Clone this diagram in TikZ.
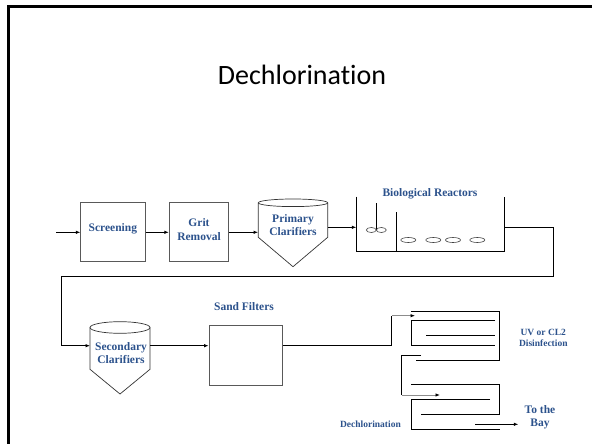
\documentclass[tikz,border=0pt]{standalone}
\usepackage{fontspec}
\setmainfont{Liberation Serif}
\newfontfamily\titlefont[Ligatures=NoCommon]{Carlito}
\usetikzlibrary{arrows.meta}
\definecolor{labelblue}{RGB}{44,82,140}
\begin{document}
\begin{tikzpicture}[x=1pt,y=-1pt,
  pipe/.style={line width=0.8pt, black},
  flow/.style={pipe, -{Latex[length=4.5pt,width=3.5pt]}},
  grayflow/.style={line width=0.8pt, black!45, -{Latex[length=4.5pt,width=3.5pt,color=black]}},
  unitbox/.style={draw=black!65, line width=0.9pt, inner sep=0pt},
  vessel/.style={draw=black!80, line width=0.7pt},
  bubble/.style={draw=black!75, line width=0.6pt},
  lbl/.style={text=labelblue, font=\bfseries\fontsize{11.5}{13.3}\selectfont, align=center, inner sep=0pt},
  smalllbl/.style={text=labelblue, font=\bfseries\fontsize{9.5}{11}\selectfont, align=center, inner sep=0pt}]
\useasboundingbox (0,0) rectangle (592,444);

% slide frame
\draw[line width=3pt] (8,444) -- (8,6.5) -- (592,6.5);

% title
\node[font=\titlefont\fontsize{28}{30}\selectfont, inner sep=0pt] (title) at (302,75) {Dechlorination};

% ---- first row ----
\coordinate (feed) at (56,232.3);
\node[unitbox, minimum width=64.3pt, minimum height=58.7pt] (screen) at (112.9,231.7) {};
\node[lbl] (screenlbl) at (112.9,228.3) {Screening};
\node[unitbox, minimum width=59.4pt, minimum height=58.7pt] (grit) at (199,231.7) {};
\node[lbl] (gritlbl) at (199,229.7) {Grit\\Removal};

% primary clarifier
\draw[vessel] (258.3,202.8) -- (258.3,237.3) -- (293,266.7) -- (327.7,237.3) -- (327.7,202.8);
\draw[vessel] (293,202.8) ellipse [x radius=34.7, y radius=3.8];
\node[lbl, minimum width=69.4pt] (pc) at (293,225) {Primary\\Clarifiers};

\draw[flow] (feed) -- (screen.west |- feed);
\draw[flow] (screen.east |- feed) -- (grit.west |- feed);
\draw[flow] (grit.east |- feed) -- (pc.west |- feed);

% biological reactors
\coordinate (brin) at (356.3,227.3);
\coordinate (brout) at (504.3,227.3);
\draw[pipe] (356.3,196.7) -- (356.3,251) -- (504.3,251) -- (504.3,196.7);
\draw[pipe] (396.3,212.3) -- (396.3,251);
\draw[pipe, line width=0.6pt] (376.3,203.3) -- (376.3,229.5);
\draw[bubble] (371.3,230) ellipse [x radius=5, y radius=2.5];
\draw[bubble] (381.3,230) ellipse [x radius=5, y radius=2.5];
\foreach \bx in {408.3,433.3,453,477.3}
  \draw[bubble] (\bx,240) ellipse [x radius=7.5, y radius=2.5];
\node[lbl] (brlbl) at (430,193.3) {Biological Reactors};

\draw[flow] (pc.east |- brin) -- (brin);

% ---- second row ----
\coordinate (scin) at (90,345.7);
\coordinate (scout) at (150,345.7);
\draw[flow] (brout) -- (553.3,227.3) -- (553.3,276.3) -- (61.3,276.3) |- (scin);

% secondary clarifier
\draw[vessel] (90,327.5) -- (90,369.3) -- (120,394) -- (150,369.3) -- (150,327.5);
\draw[vessel] (120,327.5) ellipse [x radius=30, y radius=5.8];
\node[lbl] (sc) at (121,353.3) {Secondary\\Clarifiers};

% sand filters
\node[unitbox, minimum width=73.7pt, minimum height=59.3pt] (sand) at (245.9,355.4) {};
\node[lbl] (sandlbl) at (244,306.7) {Sand Filters};
\draw[flow] (scout) -- (sand.west |- scout);

% UV / CL2 disinfection basin
\coordinate (uvturn) at (391.7,315.7);
\coordinate (uvin) at (415,315.7);
\draw[pipe] (sand.east |- scout) -| (uvturn);
\draw[grayflow] (uvturn) -- (uvin);
\draw[pipe] (411,311.7) -- (499.3,311.7) -- (499.3,360.3) -- (416,360.3);
\draw[pipe] (495,320.7) -- (411,320.7) -- (411,345) -- (495,345);
\draw[pipe] (426,335) -- (495,335);
\node[smalllbl] (uvlbl) at (543.3,337.8) {UV or CL2\\Disinfection};

% dechlorination basin
\coordinate (dcturn) at (401.7,395);
\coordinate (dcin) at (440,395);
\draw[pipe] (421,355) -- (401.7,355) -- (dcturn);
\draw[grayflow] (dcturn) -- (dcin);
\draw[pipe] (411,384.3) -- (499.3,384.3) -- (499.3,414.3) -- (421,414.3);
\draw[pipe] (490,399.3) -- (411,399.3) -- (411,429.3) -- (500,429.3);
\node[smalllbl, anchor=east] (dclbl) at (401,424) {Dechlorination};

% discharge
\coordinate (out) at (475,424.3);
\node[lbl] (bay) at (540,417) {To the\\Bay};
\draw[flow] (out) -- (518.3,424.3);
\end{tikzpicture}
\end{document}
